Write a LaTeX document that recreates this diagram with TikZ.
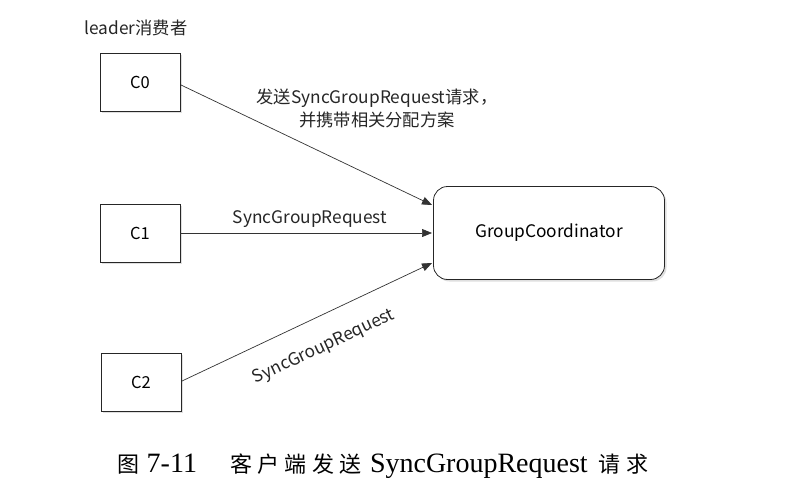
\documentclass[tikz,border=0pt]{standalone}
\usepackage{fontspec}
\setmainfont{Liberation Serif}
\newfontfamily\cjk{Noto Sans CJK SC}
\newfontfamily\cjkcap{Noto Sans CJK SC}[LetterSpace=25]
\usetikzlibrary{arrows.meta,shadows}
\begin{document}
\begin{tikzpicture}[x=1pt,y=-1pt,
  cbox/.style={draw=black!85,line width=0.8pt,fill=white,minimum width=80pt,minimum height=58pt,
    drop shadow={shadow xshift=2pt,shadow yshift=-2pt,fill=black!25},font=\cjk\fontsize{16.5}{18}\selectfont},
  gbox/.style={draw=black!85,line width=0.8pt,fill=white,rounded corners=14pt,minimum width=231pt,minimum height=93pt,
    drop shadow={shadow xshift=2pt,shadow yshift=-2pt,fill=black!25},font=\cjk\fontsize{17.3}{19}\selectfont},
  conn/.style={draw=black!80,line width=0.7pt,-{Triangle[length=10pt,width=8pt]}},
  lbl/.style={font=\cjk\fontsize{17.3}{23}\selectfont,text=black!85,align=center,inner sep=0pt}]
\useasboundingbox (0,0) rectangle (786,500);
\node[lbl] (lead) at (136,28) {leader消费者};
\node[cbox] (c0) at (140,82) {C0};
\node[cbox] (c1) at (140,233) {C1};
\node[cbox] (c2) at (141,382) {C2};
\node[gbox] (gc) at (549,233) {GroupCoordinator};
\coordinate (t0) at (432,205);
\coordinate (t1) at (432,233);
\coordinate (t2) at (432,263);
\coordinate (s0) at (181,85);
\coordinate (s2) at (182,381);
\draw[conn] (s0) -- (t0);
\draw[conn] (c1.east) -- (t1);
\draw[conn] (s2) -- (t2);
\node[lbl] (l0) at (377,108) {发送SyncGroupRequest请求，\\并携带相关分配方案};
\node[lbl] (l1) at (310,219) {SyncGroupRequest};
\node[lbl,rotate=25] (l2) at (324,347) {SyncGroupRequest};
\node[inner sep=0pt,font=\fontsize{28}{30}\selectfont] (cap) at (383,466)
  {{\cjk\fontsize{22}{24}\selectfont 图}\hspace{7pt}7-11\hspace{33pt}{\cjkcap\fontsize{22}{24}\selectfont 客户端发送}\hspace{8pt}SyncGroupRequest\hspace{11pt}{\cjkcap\fontsize{22}{24}\selectfont 请求}};
\end{tikzpicture}
\end{document}
